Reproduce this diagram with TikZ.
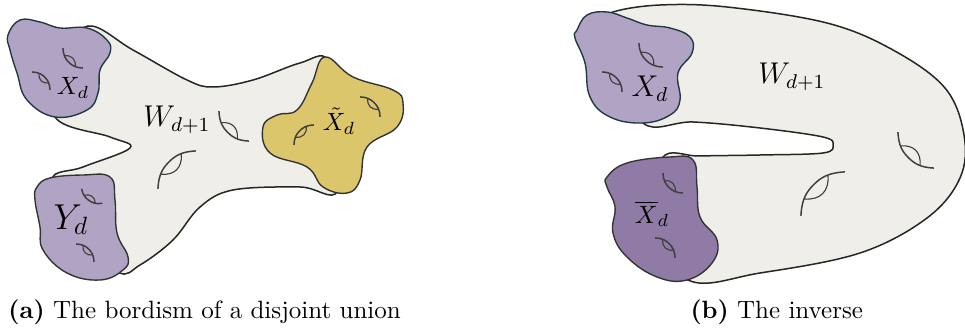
\documentclass[tikz,border=0pt]{standalone}
\usepackage{xcolor}
\usetikzlibrary{positioning}
\definecolor{bordgray}{HTML}{EFEEE9}
\definecolor{lilac}{HTML}{B1A3C3}
\definecolor{darklilac}{HTML}{8F7BA6}
\definecolor{mustard}{HTML}{DCC66B}
\definecolor{tealline}{HTML}{1E3943}
\tikzset{
  bordism/.style={
    fill = bordgray,
    draw = black!85,
    line width = 0.6pt
  },
  blob/.style={
    line width = 0.55pt
  },
  holeline/.style={
    draw = black!75,
    line width = 0.6pt
  },
  hole/.pic={
    \draw[holeline] (-14.1,0.1) .. controls (-8.5,5.2) and (-4.5,6) .. (0,6)
                    .. controls (4.5,6) and (8.5,5.2) .. (14.1,0.1);
    \draw[holeline, line width=0.45pt] (-7.65,4.48) .. controls (-3,-1.2) and (3,-1.2) .. (7.65,4.48);
  },
  lbl/.style={
    inner sep = 0pt
  }
}

\begin{document}
\begin{tikzpicture}[x=0.4pt, y=-0.4pt]
\useasboundingbox (0,0) rectangle (965,331);

% (a) disjoint union
\draw[bordism] plot[smooth cycle, tension=0.6] coordinates {
  (62,62) (88,26) (133,50) (187,80) (213,87) (253,80) (300,63) (328,60)
  (340,120) (338,191) (300,187) (233,190) (200,207) (173,240) (140,265)
  (118,272) (80,230) (52,180) (83,167) (130,148) (110,137) (55,117)};

\draw[blob, fill=lilac, draw=tealline] plot[smooth cycle, tension=0.7] coordinates {
  (8,35) (20,20) (40,22) (60,28) (87,28) (107,40) (110,53) (100,70)
  (98,93) (87,110) (55,117) (27,100) (17,73) (10,50)};
\draw[blob, fill=lilac, draw=black!80] plot[smooth cycle, tension=0.7] coordinates {
  (37,187) (50,178) (83,175) (110,177) (115,200) (117,233) (128,257)
  (123,270) (100,280) (67,273) (43,250) (40,227) (35,200)};
\draw[blob, fill=mustard, draw=black!80] plot[smooth cycle, tension=0.7] coordinates {
  (325,57) (353,77) (393,90) (403,103) (397,127) (367,147) (360,180)
  (347,193) (323,187) (307,167) (270,153) (263,127) (277,115) (297,110)
  (312,83)};

\pic[rotate=-45] at (73,58) {hole};
\pic[rotate=135, scale=0.9] at (41,81) {hole};
\pic[rotate=135] at (370,107) {hole};
\pic[rotate=-135] at (304,135) {hole};
\pic[rotate=-45, scale=1.5] at (234,126) {hole};
\pic[rotate=-135, scale=1.9] at (177,170) {hole};
\pic[rotate=-35, scale=0.9] at (92,196) {hole};
\pic[rotate=135, scale=0.9] at (85,253) {hole};

\node[lbl] (wa) at (177,120) {\large $W_{d+1}$};
\node[lbl] (xa) at (73,88) {$X_d$};
\node[lbl] (ya) at (71,220) {\Large $Y_d$};
\node[lbl] (xt) at (339,121) {$\tilde{X}_d$};

% (b) inverse
\draw[bordism] plot[smooth cycle, tension=0.6] coordinates {
  (620,60) (600,24) (613,12) (660,5) (727,7) (827,23) (893,50) (945,88)
  (964,135) (960,178) (927,218) (860,253) (760,273) (688,280) (650,220)
  (662,158) (700,156) (760,155) (823,153) (833,145) (823,137) (760,128)
  (693,122) (643,123)};

\draw[blob, fill=lilac, draw=tealline] plot[smooth cycle, tension=0.7] coordinates {
  (577,30) (587,15) (607,12) (627,18) (647,25) (670,28) (690,37) (692,53)
  (678,73) (680,100) (670,115) (643,123) (610,117) (590,97) (585,63)
  (575,38)};
\draw[blob, fill=darklilac, draw=black!80] plot[smooth cycle, tension=0.7] coordinates {
  (607,177) (627,163) (670,157) (693,160) (697,187) (700,217) (717,240)
  (712,263) (687,280) (657,277) (627,257) (613,233) (615,207) (607,187)};

\pic[rotate=-45, scale=1.2] at (651,55) {hole};
\pic[rotate=135] at (612,82) {hole};
\pic[rotate=-45] at (673,183) {hole};
\pic[rotate=135] at (665,248) {hole};
\pic[rotate=-45, scale=1.8] at (916,150) {hole};
\pic[rotate=-135, scale=2.2] at (823,194) {hole};

\node[lbl] (wb) at (792,77) {\large $W_{d+1}$};
\node[lbl] (xb) at (650,89) {\large $X_d$};
\node[lbl] (xbar) at (652,214) {$\overline{X}_d$};

% captions
\node[anchor=base west, inner sep=0pt] (capa) at (8,319) {\textbf{(a)} The bordism of a disjoint union};
\node[anchor=base west, inner sep=0pt] (capb) at (690,319) {\textbf{(b)} The inverse};
\end{tikzpicture}
\end{document}
